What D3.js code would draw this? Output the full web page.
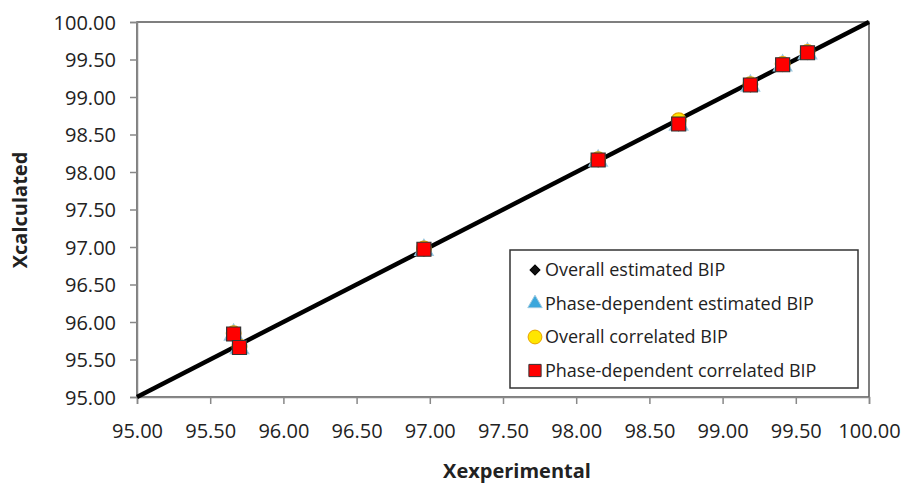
<!DOCTYPE html>
<html>
<head>
<meta charset="utf-8">
<script src="https://cdn.jsdelivr.net/npm/d3@7"></script>
<style>
  body { margin: 0; background: #fff; }
  text { font-family: "Open Sans", sans-serif; fill: #222; }
</style>
</head>
<body>
<svg width="901" height="489"></svg>
<script>
// values
const xExperimental     = [95.66, 95.70, 96.96, 98.15, 98.70, 99.19, 99.41, 99.58];
const overallEstimated  = [95.84, 95.66, 96.97, 98.16, 98.64, 99.16, 99.43, 99.59];
const phaseEstimated    = [95.83, 95.65, 96.96, 98.15, 98.63, 99.15, 99.42, 99.58];
const overallCorrelated = [95.85, 95.67, 96.98, 98.17, 98.69, 99.17, 99.44, 99.60];
const phaseCorrelated   = [95.84, 95.66, 96.97, 98.16, 98.64, 99.16, 99.43, 99.59];
const ticks = [95, 95.5, 96, 96.5, 97, 97.5, 98, 98.5, 99, 99.5, 100];
const seriesNames = ["Overall estimated BIP", "Phase-dependent estimated BIP",
                     "Overall correlated BIP", "Phase-dependent correlated BIP"];

const svg = d3.select("svg");
const m = {left: 137, right: 869, top: 22, bottom: 397};

const x = d3.scaleLinear().domain([95, 100]).range([m.left, m.right]);
const y = d3.scaleLinear().domain([95, 100]).range([m.bottom, m.top]);

// frame
svg.append("rect")
  .attr("x", m.left).attr("y", m.top)
  .attr("width", m.right - m.left).attr("height", m.bottom - m.top)
  .attr("fill", "none").attr("stroke", "#555").attr("stroke-width", 1.5);

const xAxis = svg.append("g")
  .attr("transform", `translate(0,${m.bottom})`)
  .call(d3.axisBottom(x).tickValues(ticks).tickFormat(d3.format(".2f")).tickSizeOuter(0).tickSize(7).tickPadding(20));
const yAxis = svg.append("g")
  .attr("transform", `translate(${m.left},0)`)
  .call(d3.axisLeft(y).tickValues(ticks).tickFormat(d3.format(".2f")).tickSizeOuter(0).tickSize(7).tickPadding(14));

[xAxis, yAxis].forEach(a => {
  a.select(".domain").attr("stroke", "#888").attr("stroke-width", 1.5);
  a.selectAll(".tick line").attr("stroke", "#888").attr("stroke-width", 1.5);
  a.selectAll(".tick text").style("font-size", "20px").attr("fill", "#222");
});
yAxis.selectAll(".tick text").attr("dy", "0.35em");

// parity line
svg.append("line")
  .attr("x1", x(95)).attr("y1", y(95))
  .attr("x2", x(100)).attr("y2", y(100))
  .attr("stroke", "#000").attr("stroke-width", 4.5);

const styles = [
  {type: d3.symbolSquare, size: 90, rot: 45, fill: "#111", stroke: "#000"},
  {type: d3.symbolTriangle, size: 150, rot: 0, fill: "#3aa7dc", stroke: "#9cc9e0"},
  {type: d3.symbolCircle, size: 170, rot: 0, fill: "#ffe600", stroke: "#e8a200"},
  {type: d3.symbolSquare, size: 196, rot: 0, fill: "#ff0000", stroke: "#333"}
];
const series = [overallEstimated, phaseEstimated, overallCorrelated, phaseCorrelated];

series.forEach((vals, i) => {
  const s = styles[i];
  svg.append("g").selectAll("path")
    .data(vals.map((v, j) => [xExperimental[j], v]))
    .join("path")
    .attr("transform", d => `translate(${x(d[0])},${y(d[1])}) rotate(${s.rot})`)
    .attr("d", d3.symbol().type(s.type).size(s.size))
    .attr("fill", s.fill).attr("stroke", s.stroke).attr("stroke-width", 1.2);
});

// legend
const lg = svg.append("g");
lg.append("rect")
  .attr("x", 510).attr("y", 250).attr("width", 348).attr("height", 138)
  .attr("fill", "#fff").attr("stroke", "#333").attr("stroke-width", 1.5);
const legendSizes = [50, 90, 150, 150];
seriesNames.forEach((name, i) => {
  const cy = 270 + i * 33.5;
  const s = styles[i];
  lg.append("path")
    .attr("transform", `translate(535,${cy}) rotate(${s.rot})`)
    .attr("d", d3.symbol().type(s.type).size(legendSizes[i]))
    .attr("fill", s.fill).attr("stroke", s.stroke).attr("stroke-width", 1);
  lg.append("text")
    .attr("x", 545).attr("y", cy).attr("dy", "0.35em")
    .style("font-size", "18px")
    .text(name);
});

// axis titles
svg.append("text")
  .attr("x", 517).attr("y", 478)
  .attr("text-anchor", "middle")
  .style("font-size", "20px").style("font-weight", "bold")
  .text("Xexperimental");
svg.append("text")
  .attr("transform", "translate(27,210) rotate(-90)")
  .attr("text-anchor", "middle")
  .style("font-size", "20px").style("font-weight", "bold")
  .text("Xcalculated");
</script>
</body>
</html>
